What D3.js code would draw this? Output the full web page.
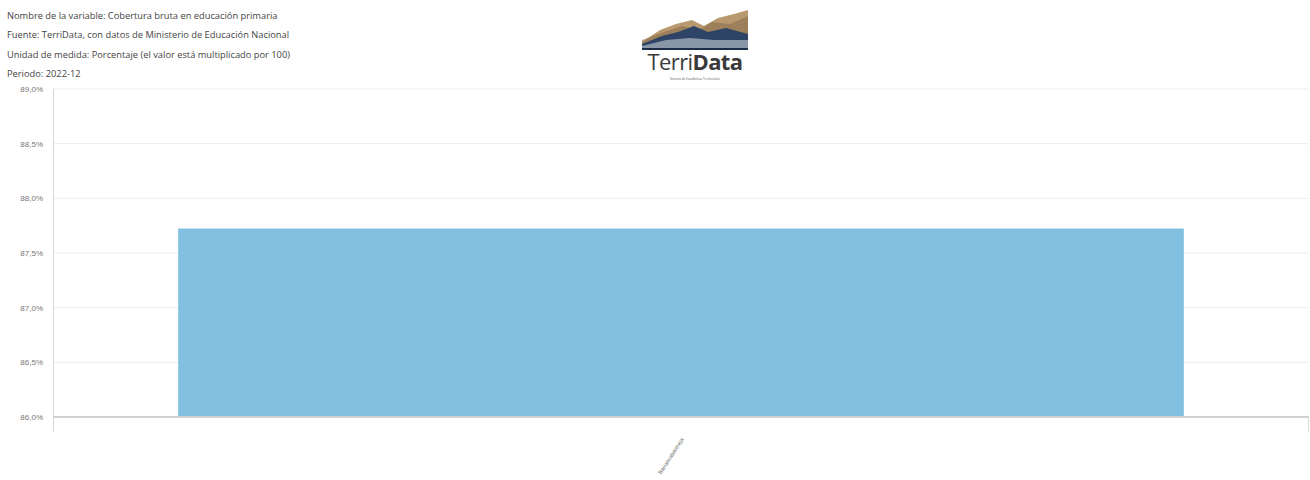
<!DOCTYPE html>
<html><head><meta charset="utf-8">
<script src="https://cdn.jsdelivr.net/npm/d3@7"></script>
<style>body{margin:0;background:#fff;}svg{display:block;font-family:"Open Sans","DejaVu Sans",sans-serif;}</style>
</head><body><svg id="c" width="1310" height="480"></svg>
<script>
const titleLines = [
  "Nombre de la variable: Cobertura bruta en educación primaria",
  "Fuente: TerriData, con datos de Ministerio de Educación Nacional",
  "Unidad de medida: Porcentaje (el valor está multiplicado por 100)",
  "Periodo: 2022-12"
];
const categories = ["Barrancabermeja"];
const values = [87.72];
const yTicks = [86.0, 86.5, 87.0, 87.5, 88.0, 88.5, 89.0];

const svg = d3.select("#c");
const mLeft = 53, mRight = 1309, mTop = 89, mBottom = 417;

svg.selectAll("text.hdr").data(titleLines).join("text")
  .attr("class","hdr").attr("x",7).attr("y",(d,i)=>19+i*19.3)
  .attr("font-size",9.3).attr("fill","#444").text(d=>d);

// logo (decorative)
const lg = svg.append("g").attr("transform","translate(642,10)");
lg.append("path").attr("d","M0,32 L18,20 L34,14 L50,10 L62,16 L76,8 L92,4 L106,0 L106,38 L0,38Z").attr("fill","#b89a6e");
lg.append("path").attr("d","M0,30 L22,22 L40,16 L56,20 L70,12 L88,14 L106,6 L106,38 L0,38Z").attr("fill","#8b6f4e").attr("opacity",0.6);
lg.append("path").attr("d","M0,34 L20,26 L36,22 L52,16 L66,22 L84,18 L106,24 L106,38 L0,38Z").attr("fill","#2d4466");
lg.append("path").attr("d","M0,36 L24,30 L48,28 L72,30 L106,30 L106,38 L0,38Z").attr("fill","#8896a8");
lg.append("rect").attr("x",0).attr("y",38).attr("width",106).attr("height",2).attr("fill","#1c2d4a");
const lt = lg.append("text").attr("x",53).attr("y",60).attr("text-anchor","middle").attr("font-size",22).attr("fill","#3a3a3a").attr("letter-spacing",-0.6);
lt.append("tspan").text("Terri");
lt.append("tspan").attr("font-weight","bold").text("Data");
lg.append("text").attr("x",53).attr("y",70).attr("text-anchor","middle").attr("font-size",3).attr("fill","#555").text("Sistema de Estadísticas Territoriales");

const y = d3.scaleLinear().domain([86, 89]).range([mBottom, mTop]);
const x = d3.scaleBand().domain(categories).range([mLeft, mRight]).paddingInner(0.2).paddingOuter(0.1);

// gridlines
svg.append("g").selectAll("line").data(yTicks).join("line")
  .attr("x1",mLeft).attr("x2",mRight).attr("y1",d=>y(d)).attr("y2",d=>y(d))
  .attr("stroke","#ececec").attr("stroke-width",1);

// bars
svg.append("g").selectAll("rect").data(values).join("rect")
  .attr("x",(d,i)=>x(categories[i])).attr("width",x.bandwidth())
  .attr("y",d=>y(d)).attr("height",d=>mBottom - y(d))
  .attr("fill","#81c0e1").attr("stroke","#76b6d8").attr("stroke-width",0.6);

// y axis
const fmt = d => d.toFixed(1).replace(".", ",") + "%";
const ya = svg.append("g").attr("transform",`translate(${mLeft},0)`)
  .call(d3.axisLeft(y).tickValues(yTicks).tickFormat(fmt).tickSize(0).tickPadding(10));
ya.select(".domain").remove();
ya.selectAll("text").attr("font-size",8).attr("fill","#777");
svg.append("line").attr("x1",mLeft+0.5).attr("x2",mLeft+0.5).attr("y1",mTop).attr("y2",432).attr("stroke","#d8d8d8");

// x axis
const xa = svg.append("g").attr("transform",`translate(0,${mBottom})`)
  .call(d3.axisBottom(x).tickSize(0).tickPadding(8));
xa.select(".domain").attr("stroke","#d0d0d0").attr("stroke-width",2).attr("d",`M${mLeft},0H${mRight}`);
xa.selectAll("text").attr("font-size",5.5).attr("fill","#666")
  .attr("text-anchor","end").attr("transform","translate(-7,16) rotate(-57)");
svg.append("line").attr("x1",mRight-0.5).attr("x2",mRight-0.5).attr("y1",mBottom).attr("y2",432).attr("stroke","#d8d8d8");
</script></body></html>
